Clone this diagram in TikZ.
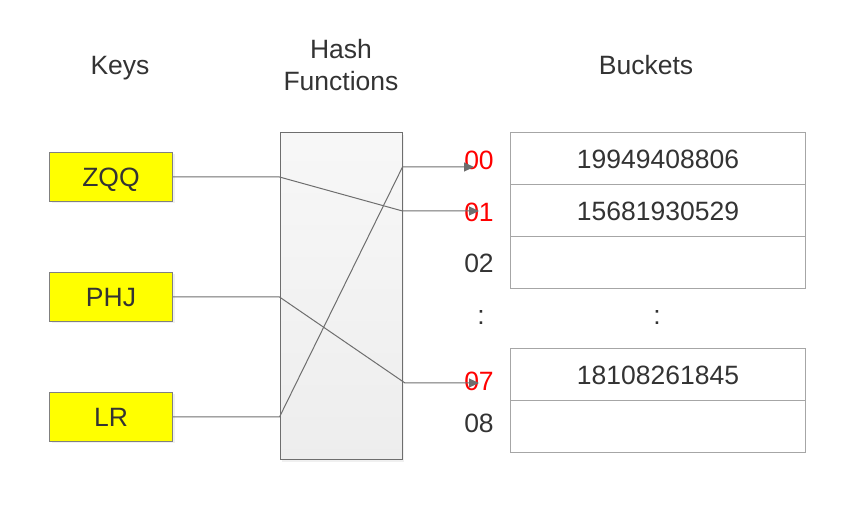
\documentclass[tikz,border=0pt]{standalone}
\usepackage{fontspec}
\setmainfont{Liberation Sans}
\usetikzlibrary{arrows.meta,shadows}
\definecolor{txt}{HTML}{333333}
\definecolor{wire}{HTML}{6E6E6E}
\definecolor{keyfill}{HTML}{FFFF00}

\begin{document}
\begin{tikzpicture}[x=1pt,y=-1pt,line width=1pt,
    every node/.style={font=\fontsize{26.5}{32}\selectfont,text=txt},
    key/.style={draw=gray,fill=keyfill,minimum width=123pt,minimum height=49pt,
      text height=19pt,text depth=0pt,
      drop shadow={shadow xshift=2pt,shadow yshift=-2pt,opacity=0.12}},
    hash/.style={draw=wire,top color=white!97!black,bottom color=white!93!black,
      minimum width=122pt,minimum height=327pt,
      drop shadow={shadow xshift=2pt,shadow yshift=-2pt,opacity=0.12}},
    bucket/.style={draw=black!35,minimum width=295pt,minimum height=52pt},
    >={Triangle[length=10pt,width=9pt]}]
      \useasboundingbox (0,0) rectangle (863,521);

      % titles
      \node[text height=19pt,text depth=0pt] (KT) at (120, 65) {Keys};
      \node[align=center] (HT) at (341, 65) {Hash\\Functions};
      \node (BT) at (646, 65) {Buckets};

      % keys and hash functions
      \node[key] (ZQQ) at (111, 177) {ZQQ};
      \node[key] (PHJ) at (111, 297) {PHJ};
      \node[key] (LR) at (111, 417) {LR};
      \node[hash] (HF) at (341, 296.5) {};

      % buckets
      \node[bucket] (B00) at (658, 159) {19949408806};
      \node[bucket] (B01) at (658, 211) {15681930529};
      \node[bucket] (B02) at (658, 263) {};
      \node (BD) at (657, 318) {:};
      \node[bucket] (B07) at (658, 375) {18108261845};
      \node[bucket] (B08) at (658, 427) {};

      % bucket indices
      \node[text=red] (L00) at (479, 160) {00};
      \node[text=red] (L01) at (479, 212) {01};
      \node (L02) at (479, 263) {02};
      \node (LD) at (481, 318) {:};
      \node[text=red] (L07) at (479, 381) {07};
      \node (L08) at (479, 423) {08};

      \draw[wire,->] (ZQQ.east) -- (HF.west |- ZQQ.east) -- (HF.east |- 0,211) -- (479, 211);
      \draw[wire,->] (PHJ.east) -- (HF.west |- PHJ.east) -- (405, 383) -- (479, 383);
      \draw[wire,->] (LR.east) -- (HF.west |- LR.east) -- (HF.east |- 0,167) -- (474, 167);
    \end{tikzpicture}
\end{document}
